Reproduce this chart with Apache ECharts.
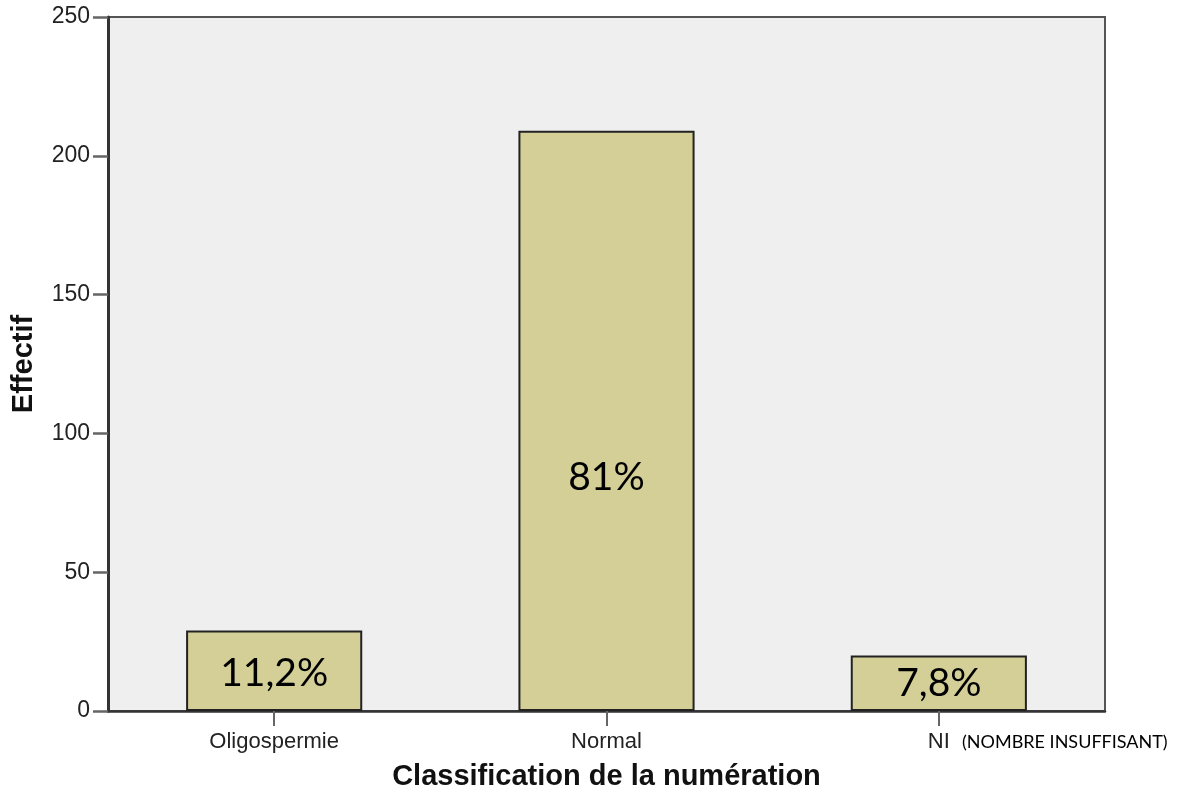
<!DOCTYPE html>
<html>
<head>
<meta charset="utf-8">
<script src="https://cdn.jsdelivr.net/npm/echarts@6/dist/echarts.min.js"></script>
<style>html,body{margin:0;padding:0;background:#fff;}#c{width:1190px;height:792px;}</style>
</head>
<body>
<div id="c"></div>
<script>
const categories = ['Oligospermie', 'Normal', 'NI'];
const counts = [29, 209, 20];
const pctLabels = ['11,2%', '81%', '7,8%'];
const labelOffsets = [[0, 3], [0, 57], [0, 0]];
const yTicks = { min: 0, max: 250, interval: 50 };
const yName = 'Effectif';
const xName = 'Classification de la numération';
const niNote = '(NOMBRE INSUFFISANT)';

const chart = echarts.init(document.getElementById('c'));
chart.setOption({
  animation: false,
  backgroundColor: '#ffffff',
  grid: { left: 108, right: 85, top: 17, bottom: 81, containLabel: false, outerBoundsMode: 'none', show: true, backgroundColor: '#efefef', borderColor: '#555', borderWidth: 2 },
  xAxis: {
    type: 'category',
    data: categories,
    name: xName,
    nameLocation: 'middle',
    nameGap: 51,
    nameTextStyle: { fontFamily: 'Liberation Sans, Arial', fontWeight: 'bold', fontSize: 29, color: '#111' },
    axisLine: { lineStyle: { color: '#333', width: 2.5 } },
    axisTick: { show: true, inside: false, alignWithLabel: true, length: 15, lineStyle: { color: '#666', width: 2 } },
    axisLabel: { fontFamily: 'Liberation Sans, Arial', fontSize: 22, color: '#222', margin: 20 },
    splitLine: { show: false }
  },
  yAxis: {
    type: 'value',
    min: yTicks.min, max: yTicks.max, interval: yTicks.interval,
    name: yName,
    nameLocation: 'middle',
    nameGap: 70,
    nameTextStyle: { fontFamily: 'Liberation Sans, Arial', fontWeight: 'bold', fontSize: 29, color: '#111' },
    axisLine: { show: true, lineStyle: { color: '#333', width: 3 } },
    axisTick: { show: true, inside: false, length: 15, lineStyle: { color: '#666', width: 2.5 } },
    axisLabel: { fontFamily: 'Liberation Sans, Arial', fontSize: 23, color: '#222', margin: 18 },
    splitLine: { show: false }
  },
  series: [{
    type: 'bar',
    barWidth: '53%',
    data: counts.map((v, i) => ({
      value: v,
      label: {
        show: true, position: 'inside', offset: labelOffsets[i],
        formatter: pctLabels[i],
        fontFamily: 'Lato, Open Sans', fontSize: 39, color: '#000'
      }
    })),
    itemStyle: { color: '#d3cf97', borderColor: '#222', borderWidth: 2 }
  }],
  graphic: [{
    type: 'text', left: 962, top: 733,
    style: { text: niNote, fontFamily: 'Lato, Open Sans', fontSize: 18, fill: '#000' }
  }]
});
</script>
</body>
</html>
